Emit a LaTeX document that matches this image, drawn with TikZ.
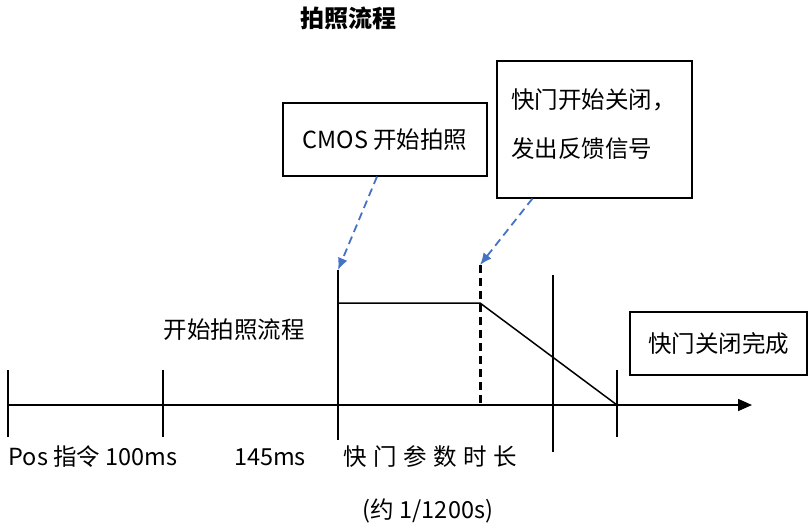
\documentclass[tikz,border=0pt]{standalone}
\usepackage{fontspec}
\setmainfont{Noto Sans CJK SC}
\usetikzlibrary{arrows.meta,calc}
\definecolor{arrblue}{HTML}{4472C4}
\tikzset{
  txt/.style={font=\fontsize{23.5}{27}\selectfont, inner sep=0pt},
  box/.style={draw, line width=1.2pt, inner sep=0pt, font=\fontsize{23.5}{27}\selectfont},
  tline/.style={line width=1.5pt},
  bluearr/.style={draw=arrblue, line width=1.8pt, dash pattern=on 8pt off 5pt, -{Latex[length=12pt,width=10pt]}},
}
\begin{document}
\begin{tikzpicture}[x=1pt,y=-1pt]
\useasboundingbox (0,0) rectangle (810,531);
% title
\node[txt, font=\fontsize{24}{27}\selectfont\bfseries] (title) at (348,18) {拍照流程};
% axis
\coordinate (axL) at (8,405);
\coordinate (axR) at (752,405);
\draw[tline, -{Triangle[length=14pt,width=12pt]}] (axL) -- (axR);
% ticks
\coordinate (t1a) at (8,370);   \coordinate (t1b) at (8,437);
\coordinate (t2a) at (163,370); \coordinate (t2b) at (163,437);
\coordinate (t3a) at (338,270); \coordinate (t3b) at (338,440);
\coordinate (t4a) at (553,275); \coordinate (t4b) at (553,452);
\coordinate (t5a) at (617,370); \coordinate (t5b) at (617,437);
\coordinate (dA) at (480,265);  \coordinate (dB) at (480,405);
\coordinate (hL) at (338,303);  \coordinate (hR) at (480,303);
\coordinate (sE) at (617,405);
\draw[tline] (t1a) -- (t1b);
\draw[tline] (t2a) -- (t2b);
\draw[tline] (t3a) -- (t3b);
\draw[tline] (t4a) -- (t4b);
\draw[tline] (t5a) -- (t5b);
\draw[line width=3pt, dash pattern=on 8pt off 5pt] (dA) -- (dB);
\draw[tline] (hL) -- (hR) -- (sE);
% boxes
\node[box, minimum width=204pt, minimum height=73pt] (cmos) at (385,139.5) {CMOS 开始拍照};
\node[box, minimum width=195pt, minimum height=137pt] (fb) at (594.5,129.5) {};
\node[txt, anchor=west] (fb1) at (511,100) {快门开始关闭，};
\node[txt, anchor=west] (fb2) at (511,149) {发出反馈信号};
\node[box, minimum width=177pt, minimum height=63pt] (done) at (718.5,343.5) {快门关闭完成};
% blue arrows
\draw[bluearr] ($(cmos.south)+(-8,0)$) -- (t3a);
\draw[bluearr] ($(fb.south west)+(36,0)$) -- (dA);
% labels
\node[txt] (start) at (234,330) {开始拍照流程};
\node[txt] (pos) at (93,457) {Pos 指令 100ms};
\node[txt] (ms145) at (270,457) {145ms};
\node[txt] (shut) at (430,457) {快\hspace{6.5pt}门\hspace{6.5pt}参\hspace{6.5pt}数\hspace{6.5pt}时\hspace{6.5pt}长};
\node[txt] (approx) at (428,511) {(约 1/1200s)};
\end{tikzpicture}
\end{document}
